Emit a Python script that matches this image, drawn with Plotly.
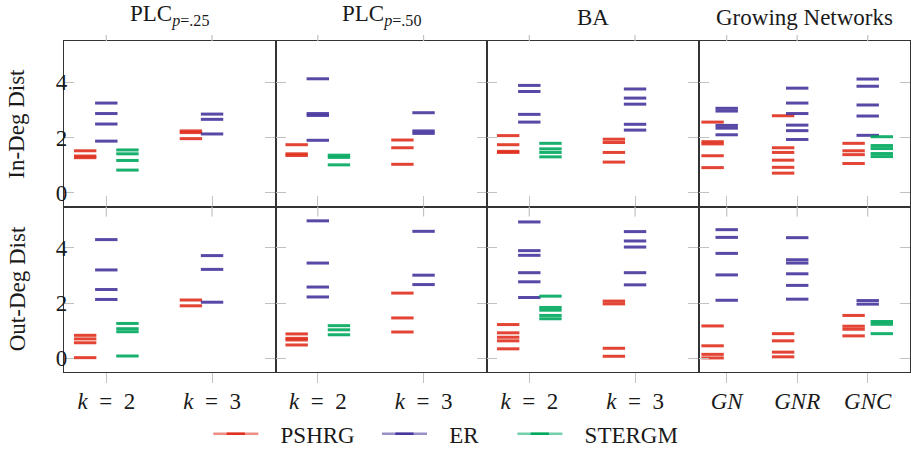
import plotly.graph_objects as go
from plotly.subplots import make_subplots

FONT = "Liberation Serif"
MODELS = ["PSHRG", "ER", "STERGM"]
COLORS = {"PSHRG": "#e0301e", "ER": "#46369e", "STERGM": "#00a85e"}
LEGEND_LINE = {"PSHRG": "rgba(224,48,30,0.55)", "ER": "rgba(70,54,158,0.55)",
               "STERGM": "rgba(0,168,94,0.55)"}
OFFSETS = {"PSHRG": -0.2, "ER": 0.0, "STERGM": 0.2}

panel_titles = ["PLC<sub><i>p</i>=.25</sub>", "PLC<sub><i>p</i>=.50</sub>", "BA", "Growing Networks"]
row_titles = ["In-Deg Dist", "Out-Deg Dist"]
k_labels = ["<i>k</i>\u2002=\u20022", "<i>k</i>\u2002=\u20023"]
gn_labels = ["<i>GN</i>", "<i>GNR</i>", "<i>GNC</i>"]
y_ticks = [0, 2, 4]

# ---- in-degree distance, one list per x category ----
plc25_in_pshrg = [[1.52, 1.33, 1.27], [2.24, 2.18, 1.96]]
plc25_in_er = [[3.25, 2.87, 2.49, 1.87], [2.85, 2.66, 2.13]]
plc25_in_stergm = [[1.55, 1.41, 1.17, 0.82], []]

plc50_in_pshrg = [[1.74, 1.41, 1.35], [1.91, 1.63, 1.03]]
plc50_in_er = [[4.13, 2.87, 2.80, 1.90], [2.90, 2.24, 2.15]]
plc50_in_stergm = [[1.36, 1.28, 1.01], []]

ba_in_pshrg = [[2.07, 1.74, 1.50, 1.46], [1.94, 1.82, 1.46, 1.11]]
ba_in_er = [[3.89, 3.67, 2.84, 2.56], [3.76, 3.43, 3.21, 2.48, 2.27]]
ba_in_stergm = [[1.79, 1.59, 1.46, 1.30], []]

gn_in_pshrg = [[2.56, 1.85, 1.77, 1.34, 0.91],
               [2.79, 1.63, 1.46, 1.18, 0.92, 0.71],
               [1.79, 1.52, 1.38, 1.06]]
gn_in_er = [[3.06, 2.96, 2.44, 2.34, 2.10],
            [3.79, 3.25, 2.87, 2.45, 2.25, 1.93],
            [4.12, 3.86, 3.18, 2.78, 2.08]]
gn_in_stergm = [[], [], [2.03, 1.71, 1.60, 1.42, 1.31]]

# ---- out-degree distance ----
plc25_out_pshrg = [[0.83, 0.70, 0.56, 0.02], [2.11, 1.90]]
plc25_out_er = [[4.30, 3.20, 2.49, 2.13], [3.72, 3.22, 2.03]]
plc25_out_stergm = [[1.26, 1.07, 0.96, 0.08], []]

plc50_out_pshrg = [[0.88, 0.72, 0.66, 0.48], [2.36, 1.46, 0.95]]
plc50_out_er = [[4.98, 3.45, 2.58, 2.22], [4.60, 3.01, 2.67]]
plc50_out_stergm = [[1.18, 1.03, 0.85], []]

ba_out_pshrg = [[1.22, 0.92, 0.76, 0.63, 0.34], [2.07, 1.97, 0.36, 0.07]]
ba_out_er = [[4.94, 3.90, 3.73, 3.10, 2.77, 2.20], [4.59, 4.25, 4.03, 3.10, 2.66]]
ba_out_stergm = [[2.25, 1.84, 1.74, 1.55, 1.43], []]

gn_out_pshrg = [[1.17, 0.45, 0.14, 0.01],
                [0.89, 0.63, 0.22, 0.05],
                [1.55, 1.16, 1.05, 0.81]]
gn_out_er = [[4.66, 4.38, 3.80, 3.02, 2.10],
             [4.37, 3.57, 3.45, 3.06, 2.64, 2.14],
             [2.09, 1.96]]
gn_out_stergm = [[], [], [1.33, 1.23, 0.89]]

panels = [
    (1, 1, k_labels, [plc25_in_pshrg, plc25_in_er, plc25_in_stergm]),
    (1, 2, k_labels, [plc50_in_pshrg, plc50_in_er, plc50_in_stergm]),
    (1, 3, k_labels, [ba_in_pshrg, ba_in_er, ba_in_stergm]),
    (1, 4, gn_labels, [gn_in_pshrg, gn_in_er, gn_in_stergm]),
    (2, 1, k_labels, [plc25_out_pshrg, plc25_out_er, plc25_out_stergm]),
    (2, 2, k_labels, [plc50_out_pshrg, plc50_out_er, plc50_out_stergm]),
    (2, 3, k_labels, [ba_out_pshrg, ba_out_er, ba_out_stergm]),
    (2, 4, gn_labels, [gn_out_pshrg, gn_out_er, gn_out_stergm]),
]

Y_RANGE = [-0.5, 5.5]
LINE_COLOR = "#333333"
TICK_COLOR = "#c2c2c2"
TICK_LEN = 10
TEXT_COLOR = "#1a1a1a"
W, H = 911, 452
M = dict(l=64, r=1, t=41, b=80, autoexpand=False)
plot_h = H - M["t"] - M["b"]

fig = make_subplots(rows=2, cols=4, horizontal_spacing=0, vertical_spacing=0)

for row, col, labels, series in panels:
    for model, values in zip(MODELS, series):
        xs, ys = [], []
        for i, cat_vals in enumerate(values):
            for v in cat_vals:
                xs.append(i + 1 + OFFSETS[model])
                ys.append(v)
        fig.add_trace(go.Scatter(
            x=xs, y=ys, mode="markers", showlegend=False, hoverinfo="y",
            marker=dict(symbol="line-ew", size=16, opacity=0.9,
                        line=dict(width=3, color=COLORS[model])),
        ), row=row, col=col)

    n = len(labels)
    lo, hi = 0.6, n + 0.6
    fig.update_xaxes(
        range=[lo, hi], tickmode="array", tickvals=list(range(1, n + 1)),
        ticktext=labels, showticklabels=(row == 2),
        ticks="outside" if row == 2 else "inside", ticklen=TICK_LEN,
        tickcolor=TICK_COLOR, tickwidth=1.2, ticklabelstandoff=-2,
        showline=True, linecolor=LINE_COLOR, linewidth=1.3, mirror=True,
        showgrid=False, zeroline=False,
        tickfont=dict(family=FONT, size=23, color=TEXT_COLOR),
        row=row, col=col)
    fig.update_yaxes(
        range=Y_RANGE, tickmode="array", tickvals=y_ticks,
        showticklabels=(col == 1), ticks="inside", ticklen=TICK_LEN,
        tickcolor=TICK_COLOR, tickwidth=1.2, ticklabelstandoff=-9,
        showline=True, linecolor=LINE_COLOR, linewidth=1.3, mirror="ticks",
        showgrid=False, zeroline=False,
        tickfont=dict(family=FONT, size=23, color=TEXT_COLOR),
        row=row, col=col)

    # tick marks along the upper frame edge of each panel
    x0d, x1d = (col - 1) / 4, col / 4
    y_top = 1.0 if row == 1 else 0.5
    for i in range(1, n + 1):
        px = x0d + (i - lo) / (hi - lo) * (x1d - x0d)
        if row == 1:
            ya, yb = y_top, y_top + 6 / plot_h
        else:
            ya, yb = y_top, y_top - TICK_LEN / plot_h
        fig.add_shape(type="line", xref="paper", yref="paper",
                      x0=px, x1=px, y0=ya, y1=yb,
                      line=dict(color=TICK_COLOR, width=1.2))

# legend entries
NB = "\u00a0"
legend_names = {"PSHRG": NB * 3 + "PSHRG" + NB * 3,
                "ER": NB * 3 + "ER" + NB * 5,
                "STERGM": NB * 3 + "STERGM"}
for model in MODELS:
    fig.add_trace(go.Scatter(
        x=[None], y=[None], mode="lines+markers", name=legend_names[model],
        line=dict(color=LEGEND_LINE[model], width=2.5),
        marker=dict(symbol="line-ew", size=13, line=dict(width=2.5, color=COLORS[model])),
    ), row=1, col=1)

# column titles
for j, title in enumerate(panel_titles):
    fig.add_annotation(text=title, xref="paper", yref="paper",
                       x=(j + 0.5) / 4, y=1, xanchor="center", yanchor="bottom",
                       yshift=9, showarrow=False,
                       font=dict(family=FONT, size=23, color=TEXT_COLOR))

# row titles
for r, title in enumerate(row_titles):
    fig.add_annotation(text=title, xref="paper", yref="paper",
                       x=-47 / (W - M["l"] - M["r"]), y=0.75 - 0.5 * r,
                       xanchor="center", yanchor="middle", textangle=-90,
                       showarrow=False,
                       font=dict(family=FONT, size=23, color=TEXT_COLOR))

fig.update_layout(
    width=W, height=H, margin=M,
    paper_bgcolor="white", plot_bgcolor="white",
    font=dict(family=FONT, size=23, color=TEXT_COLOR),
    showlegend=True,
    legend=dict(orientation="h", x=0.4513, xanchor="center",
                y=-0.187, yanchor="middle", itemwidth=45,
                font=dict(family=FONT, size=23, color=TEXT_COLOR),
                bgcolor="rgba(0,0,0,0)"),
)

fig.write_html("out.html")
